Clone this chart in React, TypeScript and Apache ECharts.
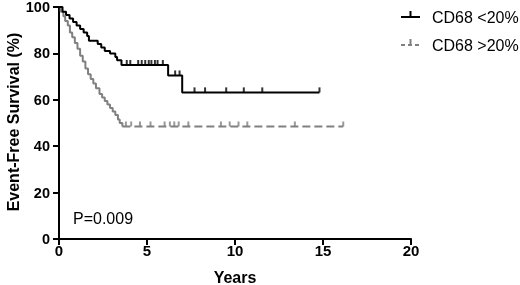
import React, { useEffect, useRef } from "react";
import * as echarts from "echarts";

const seriesNames = ["CD68 <20%", "CD68 >20%"];
// Kaplan-Meier steps: [years, survival %]
const lowSteps: [number, number][] = [
  [0, 100], [0.2, 98], [0.4, 96.5], [0.6, 95], [0.8, 93.5], [1.0, 92], [1.2, 90.5],
  [1.4, 89], [1.6, 87.5], [1.7, 85.5], [2.2, 84], [2.4, 82.5], [2.6, 81], [2.9, 80],
  [3.2, 78.5], [3.3, 77], [3.55, 75], [6.2, 70.5], [7.0, 63.2], [14.8, 63.2],
];
const highSteps: [number, number][] = [
  [0, 100], [0.1, 98], [0.25, 96], [0.35, 94], [0.5, 92], [0.62, 89], [0.75, 87],
  [0.9, 84.5], [1.05, 82], [1.2, 79], [1.35, 76.5], [1.5, 73.5], [1.65, 71], [1.8, 69],
  [1.95, 67], [2.1, 65], [2.3, 62.5], [2.45, 61], [2.6, 59.5], [2.75, 58], [2.9, 56.5],
  [3.05, 55], [3.2, 53.5], [3.35, 51.5], [3.45, 50], [3.6, 48.5], [16.15, 48.5],
];
const lowCensored: [number, number][] = [
  [3.85, 75], [4.05, 75], [4.5, 75], [4.7, 75], [4.9, 75], [5.1, 75], [5.25, 75],
  [5.45, 75], [5.6, 75], [5.9, 75], [6.6, 70.5], [6.85, 70.5],
  [7.7, 63.2], [8.3, 63.2], [9.5, 63.2], [10.5, 63.2], [11.55, 63.2], [14.8, 63.2],
];
const highCensored: [number, number][] = [
  [3.8, 48.5], [4.1, 48.5], [4.6, 48.5], [5.2, 48.5], [6.0, 48.5], [6.3, 48.5],
  [6.55, 48.5], [6.8, 48.5], [7.35, 48.5], [9.2, 48.5], [9.7, 48.5], [10.2, 48.5],
  [10.7, 48.5], [13.4, 48.5], [16.15, 48.5],
];
const pValueText = "P=0.009";
const xAxisName = "Years";
const yAxisName = "Event-Free Survival (%)";

const BLACK = "#000000";
const GRAY = "#808080";
const FONT = "'Liberation Sans', Arial, sans-serif";

// index where the steep part of the >20% curve ends (plateau start)
const highPlateauIdx = highSteps.length - 2;

export default function App() {
  const ref = useRef<HTMLDivElement>(null);
  useEffect(() => {
    if (!ref.current) return;
    const chart = echarts.init(ref.current, undefined, { renderer: "svg" });
    const tickSym = { symbol: "rect", symbolSize: [2, 5], symbolOffset: [0, -2.5] };
    chart.setOption({
      animation: false,
      grid: { left: 59, right: 109, top: 7, bottom: 46, outerBoundsMode: "none" },
      xAxis: {
        type: "value", min: 0, max: 20, interval: 5,
        name: xAxisName, nameLocation: "middle", nameGap: 30,
        nameTextStyle: { fontFamily: FONT, fontWeight: "bold", fontSize: 16, color: BLACK },
        axisLine: { lineStyle: { color: BLACK, width: 2 } },
        axisTick: { length: 6, lineStyle: { color: BLACK, width: 2 } },
        axisLabel: { fontFamily: FONT, fontWeight: "bold", fontSize: 15, color: BLACK, margin: 4 },
        splitLine: { show: false },
      },
      yAxis: {
        type: "value", min: 0, max: 100, interval: 20,
        axisLine: { show: true, lineStyle: { color: BLACK, width: 2 } },
        axisTick: { show: true, length: 6, lineStyle: { color: BLACK, width: 2 } },
        axisLabel: { fontFamily: FONT, fontWeight: "bold", fontSize: 14.5, lineHeight: 12, color: BLACK, margin: 9 },
        splitLine: { show: false },
      },
      series: [
        {
          name: seriesNames[0], type: "line", step: "end", data: lowSteps,
          showSymbol: false, lineStyle: { color: BLACK, width: 2 }, z: 3,
        },
        {
          name: seriesNames[1], type: "line", step: "end", data: highSteps.slice(0, highPlateauIdx + 1),
          showSymbol: false, lineStyle: { color: GRAY, width: 2 }, z: 2,
        },
        {
          name: seriesNames[1], type: "line", step: "end", data: highSteps.slice(highPlateauIdx),
          showSymbol: false, lineStyle: { color: GRAY, width: 2, type: [8, 4] }, z: 2,
        },
        {
          type: "scatter", data: lowCensored, ...tickSym,
          itemStyle: { color: BLACK }, z: 4,
        },
        {
          type: "scatter", data: highCensored, ...tickSym,
          itemStyle: { color: GRAY }, z: 4,
        },
      ],
      graphic: [
        {
          type: "text", x: 13, y: 122, rotation: Math.PI / 2,
          style: { text: yAxisName, font: `bold 16px ${FONT}`, fill: BLACK, align: "center", verticalAlign: "middle" },
        },
        { type: "line", shape: { x1: 401, y1: 17, x2: 420, y2: 17 }, style: { stroke: BLACK, lineWidth: 2 } },
        { type: "line", shape: { x1: 410.5, y1: 11, x2: 410.5, y2: 17 }, style: { stroke: BLACK, lineWidth: 2 } },
        { type: "text", x: 432, y: 17, style: { text: seriesNames[0], font: `16px ${FONT}`, fill: BLACK, verticalAlign: "middle" } },
        { type: "line", shape: { x1: 401, y1: 45, x2: 420, y2: 45 }, style: { stroke: GRAY, lineWidth: 2, lineDash: [4, 3] } },
        { type: "line", shape: { x1: 410.5, y1: 39, x2: 410.5, y2: 45 }, style: { stroke: GRAY, lineWidth: 2 } },
        { type: "text", x: 432, y: 45, style: { text: seriesNames[1], font: `16px ${FONT}`, fill: BLACK, verticalAlign: "middle" } },
        { type: "text", x: 73, y: 218, style: { text: pValueText, font: `16px ${FONT}`, fill: BLACK, verticalAlign: "middle" } },
      ],
    });
    return () => chart.dispose();
  }, []);
  return <div ref={ref} style={{ position: "fixed", left: 0, top: 0, width: 520, height: 285 }} />;
}
